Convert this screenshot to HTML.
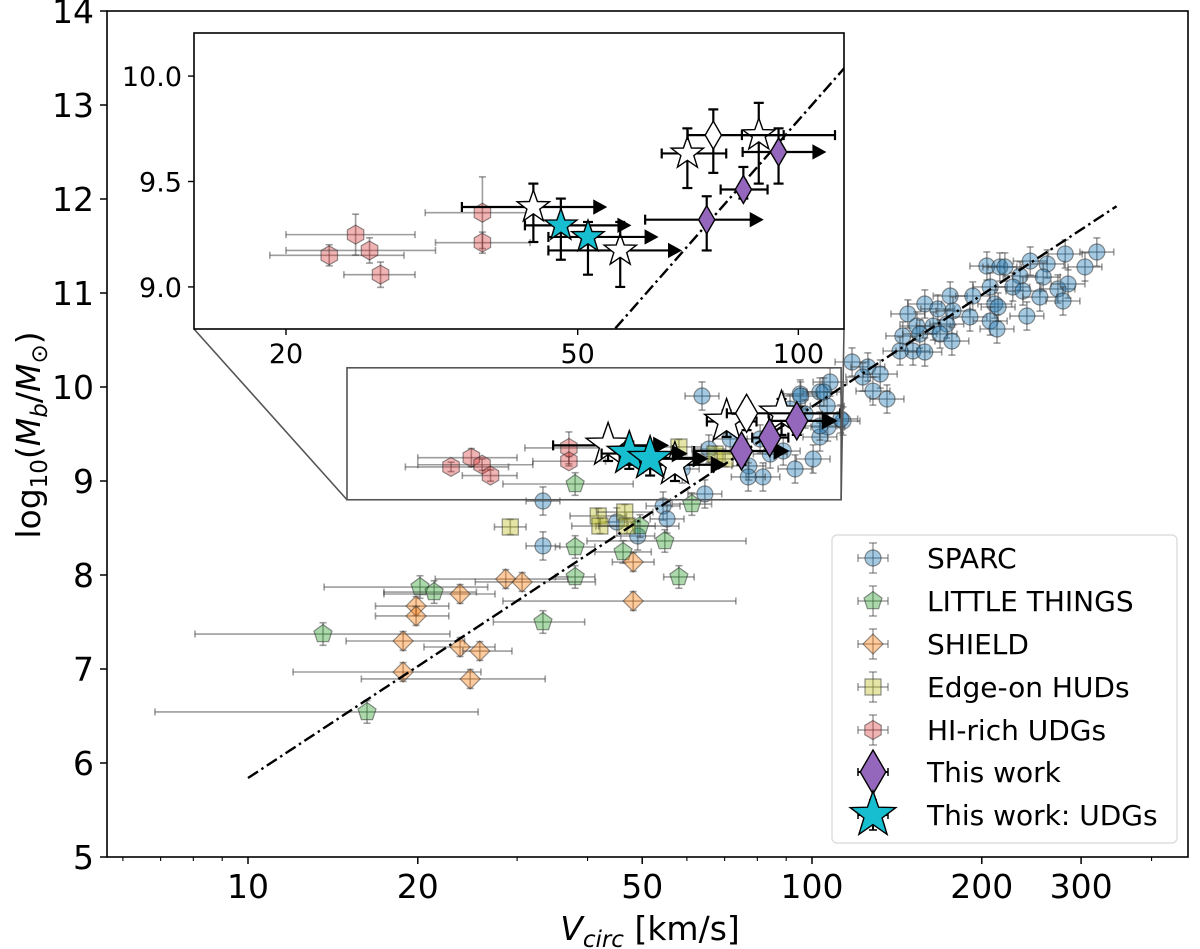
<!DOCTYPE html>
<html><head><meta charset="utf-8">
<style>
html,body{margin:0;padding:0;background:#fff;}
svg{display:block;font-family:"DejaVu Sans","Liberation Sans",sans-serif;}
</style></head>
<body>
<svg id="chart" width="1200" height="949" viewBox="0 0 1200 949" xmlns="http://www.w3.org/2000/svg">
<defs>
<clipPath id="clipMain"><rect x="107" y="11" width="1081" height="846"/></clipPath>
<clipPath id="clipInset"><rect x="194" y="33" width="650" height="296"/></clipPath>
</defs>
<rect x="0" y="0" width="1200" height="949" fill="#fff"/>
<g id="mainG" clip-path="url(#clipMain)"></g>
<g id="axesG"></g>
<g id="insetG"></g>
<g id="legendG"></g>
<text x="650" y="940" text-anchor="middle" font-size="33"><tspan font-style="italic">V</tspan><tspan font-style="italic" font-size="23" dy="7">circ</tspan><tspan dy="-7"> [km/s]</tspan></text>
<text transform="translate(40,435) rotate(-90)" text-anchor="middle" font-size="33">log<tspan font-size="23" dy="7">10</tspan><tspan dy="-7">(</tspan><tspan font-style="italic">M</tspan><tspan font-style="italic" font-size="23" dy="7">b</tspan><tspan dy="-7">/</tspan><tspan font-style="italic">M</tspan><tspan font-size="23" dy="7">⊙</tspan><tspan dy="-7">)</tspan></text>
</svg>
<script>
// ---------------- DATA (log10 Vcirc [km/s], log10 Mb) ----------------
const sparcLogV = [2.310,2.333,2.342,2.387,2.417,2.449,2.505,2.484,2.369,2.410,2.316,2.356,2.374,2.436,2.454,2.404,2.445,2.324,2.330,2.381,2.245,2.285,2.200,2.223,2.170,2.250,2.280,2.186,2.215,2.239,2.161,2.191,2.227,2.248,2.156,2.179,2.200,2.316,2.328,2.071,2.099,2.090,2.121,2.108,2.133,2.032,1.979,2.014,2.027,2.055,2.028,2.014,2.002,1.949,1.805,1.980,2.021,2.014,2.051,1.888,1.913,1.887,1.817,1.810,1.770,1.523,1.523,1.736,1.691,1.743,1.654,1.961,1.988,1.908,1.926,1.970,1.855];
const sparcLogM = [11.287,11.277,11.277,11.340,11.309,11.415,11.436,11.277,11.181,11.170,11.064,11.064,11.021,11.043,11.096,10.957,10.915,10.883,10.851,10.755,10.968,10.968,10.883,10.830,10.777,10.809,10.745,10.649,10.649,10.670,10.543,10.564,10.564,10.489,10.383,10.383,10.372,10.702,10.617,10.266,10.213,10.106,10.138,9.957,9.872,10.053,9.926,9.947,9.798,9.638,9.574,9.468,9.234,9.319,9.904,9.904,9.947,9.585,9.660,9.160,9.043,9.043,9.340,8.862,9.128,8.787,8.309,8.734,8.415,8.596,8.564,9.766,9.713,9.447,9.287,9.128,9.447];
const sparcErrV = 0.03, sparcErrM = 0.15;

const ltLogV = [1.580,1.787,1.695,1.580,1.665,1.739,1.580,1.764,1.305,1.330,1.523,1.133,1.211];
const ltLogM = [8.968,8.755,8.521,8.298,8.245,8.362,7.979,7.979,7.872,7.819,7.500,7.372,6.543];
const ltErrVlo = [0.128,0.035,0.078,0.035,0.05,0.138,0.035,0.027,0.17,0.089,0.088,0.227,0.376];
const ltErrVhi = [0.103,0.035,0.069,0.035,0.05,0.144,0.035,0.027,0.12,0.075,0.074,0.225,0.197];
const ltErrM = 0.12;

const shLogV = [1.683,1.457,1.486,1.376,1.298,1.298,1.683,1.275,1.376,1.411,1.275,1.394];
const shLogM = [8.138,7.957,7.926,7.798,7.670,7.564,7.723,7.298,7.234,7.191,6.968,6.894];
const shErrVlo = [0.037,0.125,0.083,0.135,0.072,0.072,0.231,0.101,0.064,0.03,0.195,0.193];
const shErrVhi = [0.037,0.11,0.13,0.062,0.058,0.058,0.182,0.109,0.062,0.057,0.138,0.133];
const shErrM = 0.1;

const hudLogV = [1.465,1.621,1.624,1.668,1.672,1.764,1.828,1.846];
const hudLogM = [8.511,8.628,8.521,8.670,8.521,9.362,9.287,9.234];
const hudErrV = [0.028,0.05,0.05,0.05,0.05,0.04,0.04,0.04];
const hudErrM = 0.08;

const udgLogV = [1.360,1.396,1.415,1.430,1.569,1.569];
const udgLogM = [9.150,9.248,9.173,9.058,9.352,9.210];
const udgErrVlo = [0.081,0.095,0.114,0.050,0.078,0.064];
const udgErrVhi = [0.102,0.081,0.090,0.047,0.061,0.065];
const udgErrM = [0.05,0.097,0.06,0.06,0.17,0.05];

const twLogV = [1.875,1.925,1.973];
const twLogM = [9.319,9.462,9.640];
const twErrVlo = [0.084,0.031,0.049];
const twErrVhi = [0.0625,0.033,0.05];
const twArrow = [1,0,1];
const twErrMlo = [0.146,0.043,0.15];
const twErrMhi = [0.111,0.107,0.112];

const cyLogV = [1.676,1.713];
const cyLogM = [9.292,9.237];
const cyErrVlo = [0.049,0.054];
const cyErrVhi = [0.081,0.081];
const cyArrow = [1,1];
const cyErrMlo = [0.163,0.179];
const cyErrMhi = [0.127,0.071];

const wsLogV = [1.6385,1.757,1.8486,1.946];
const wsLogM = [9.379,9.173,9.633,9.72];
const wsErrVlo = [0.0975,0.098,0.035,0.023];
const wsErrVhi = [0.0855,0.069,0.053,0.034];
const wsArrow = [1,1,0,0];
const wsErrMlo = [0.166,0.173,0.164,0.23];
const wsErrMhi = [0.111,0.135,0.119,0.153];

const wdLogV = [1.884];
const wdLogM = [9.72];
const wdErrVlo = [0.035];
const wdErrVhi = [0.166];
const wdErrMlo = [0.179];
const wdErrMhi = [0.122];

const fitSlope = 3.95, fitIntercept = 1.89, fitLogVmin = 1.0, fitLogVmax = 2.54;

const xTickVals = [10,20,50,100,200,300];
const xTickLabels = ["10","20","50","100","200","300"];
const yTickVals = [5,6,7,8,9,10,11,12,13,14];
const insetXTickVals = [20,50,100];
const insetXTickLabels = ["20","50","100"];
const insetYTickVals = [9.0,9.5,10.0];
const insetYTickLabels = ["9.0","9.5","10.0"];

// ---------------- SCALES ----------------
const NS = "http://www.w3.org/2000/svg";
const M = {x0:107,x1:1188,y0:11,y1:857, lv0:Math.log10(10)-(248-107)/564, lv1:1+(1188-248)/564, m0:5, m1:14};
const I = {x0:194,x1:844,y0:33,y1:329, lv0:Math.log10(20)-(286-194)/733, lv1:Math.log10(20)+(844-286)/733, m0:9.0-(329-287)/210.5, m1:10.0+(76-33)/210.5};
function sx(A,lv){return A.x0+(lv-A.lv0)/(A.lv1-A.lv0)*(A.x1-A.x0);}
function sy(A,m){return A.y1-(m-A.m0)/(A.m1-A.m0)*(A.y1-A.y0);}

function mk(tag,attrs,parent){const e=document.createElementNS(NS,tag);for(const k in attrs)e.setAttribute(k,attrs[k]);parent.appendChild(e);return e;}

function shapePath(kind,cx,cy,s){
  let pts=[];
  if(kind==="circle") return null;
  if(kind==="pent"){for(let i=0;i<5;i++){const a=-Math.PI/2+i*2*Math.PI/5;pts.push([cx+s*Math.cos(a),cy+s*Math.sin(a)]);}}
  if(kind==="hex"){for(let i=0;i<6;i++){const a=-Math.PI/2+i*Math.PI/3;pts.push([cx+s*Math.cos(a),cy+s*Math.sin(a)]);}}
  if(kind==="diam"){pts=[[cx,cy-s],[cx+s,cy],[cx,cy+s],[cx-s,cy]];}
  if(kind==="sq"){pts=[[cx-s*0.8,cy-s*0.8],[cx+s*0.8,cy-s*0.8],[cx+s*0.8,cy+s*0.8],[cx-s*0.8,cy+s*0.8]];}
  if(kind==="tdiam"){pts=[[cx,cy-s],[cx+s*0.58,cy],[cx,cy+s],[cx-s*0.58,cy]];}
  if(kind==="star"){for(let i=0;i<10;i++){const r=i%2?s*0.4:s;const a=-Math.PI/2+i*Math.PI/5;pts.push([cx+r*Math.cos(a),cy+r*Math.sin(a)]);}}
  return "M"+pts.map(p=>p[0].toFixed(1)+","+p[1].toFixed(1)).join("L")+"Z";
}
function drawMarker(g,kind,cx,cy,s,fill,stroke,sw,name){
  let e;
  if(kind==="circle") e=mk("circle",{cx:cx,cy:cy,r:s,fill:fill,stroke:stroke,"stroke-width":sw},g);
  else e=mk("path",{d:shapePath(kind,cx,cy,s),fill:fill,stroke:stroke,"stroke-width":sw},g);
  
  
  return e;
}
function errbar(g,A,lv,m,vlo,vhi,mlo,mhi,col,sw,cap,arrow,arrowSize){
  const x=sx(A,lv),y=sy(A,m);
  const xa=sx(A,lv-vlo),xb=sx(A,lv+vhi),ya=sy(A,m-mlo),yb=sy(A,m+mhi);
  const st={stroke:col,"stroke-width":sw,fill:"none"};
  mk("line",Object.assign({x1:xa,y1:y,x2:xb,y2:y},st),g);
  mk("line",Object.assign({x1:x,y1:ya,x2:x,y2:yb},st),g);
  mk("line",Object.assign({x1:xa,y1:y-cap,x2:xa,y2:y+cap},st),g);
  mk("line",Object.assign({x1:x-cap,y1:ya,x2:x+cap,y2:ya},st),g);
  mk("line",Object.assign({x1:x-cap,y1:yb,x2:x+cap,y2:yb},st),g);
  if(arrow){
    const s=arrowSize;
    const t=mk("path",{d:`M${xb-s*0.2},${y-s*0.55}L${xb+s*0.8},${y}L${xb-s*0.2},${y+s*0.55}Z`,fill:col},g);
    
    
  } else {
    mk("line",Object.assign({x1:xb,y1:y-cap,x2:xb,y2:y+cap},st),g);
  }
}

const COL = {blue:"rgba(31,119,180,0.4)",green:"rgba(44,160,44,0.4)",orange:"rgba(255,127,14,0.4)",yellow:"rgba(188,189,34,0.4)",red:"rgba(214,39,40,0.35)"};
const EBC = "rgba(60,60,60,0.5)";
const MEDGE = "rgba(40,40,40,0.5)";

function drawLit(g,A,lvs,ms,vlo,vhi,mer,kind,size,fill,name){
  for(let i=0;i<lvs.length;i++){
    const lo=Array.isArray(vlo)?vlo[i]:vlo, hi=Array.isArray(vhi)?vhi[i]:vhi, me=Array.isArray(mer)?mer[i]:mer;
    errbar(g,A,lvs[i],ms[i],lo,hi,me,me,EBC,1.6,3.5,false,0);
    drawMarker(g,kind,sx(A,lvs[i]),sy(A,ms[i]),size,fill,MEDGE,1.2,name);
  }
}
function drawThis(g,A,lvs,ms,vlo,vhi,arr,mlo,mhi,kind,size,fill,name,sw,cap,asz){
  for(let i=0;i<lvs.length;i++){
    errbar(g,A,lvs[i],ms[i],vlo[i],vhi[i],mlo[i],mhi[i],"#000",sw,cap,arr?arr[i]:0,asz);
  }
  for(let i=0;i<lvs.length;i++){
    drawMarker(g,kind,sx(A,lvs[i]),sy(A,ms[i]),size,fill,"#000",1.4,name);
  }
}
function drawFit(g,A,name){
  const l=mk("line",{x1:sx(A,fitLogVmin),y1:sy(A,fitSlope*fitLogVmin+fitIntercept),x2:sx(A,fitLogVmax),y2:sy(A,fitSlope*fitLogVmax+fitIntercept),stroke:"#000","stroke-width":2.4,"stroke-dasharray":"12,4,2.5,4",fill:"none"},g);
  
  
}

// ---------------- MAIN ----------------
const mainG=document.getElementById("mainG");
drawLit(mainG,M,sparcLogV,sparcLogM,sparcErrV,sparcErrV,sparcErrM,"circle",8,COL.blue,"sparc-point");
drawLit(mainG,M,ltLogV,ltLogM,ltErrVlo,ltErrVhi,ltErrM,"pent",9.5,COL.green,"little-things-point");
drawLit(mainG,M,shLogV,shLogM,shErrVlo,shErrVhi,shErrM,"diam",10,COL.orange,"shield-point");
drawLit(mainG,M,hudLogV,hudLogM,hudErrV,hudErrV,hudErrM,"sq",10,COL.yellow,"edge-on-hud-point");
drawLit(mainG,M,udgLogV,udgLogM,udgErrVlo,udgErrVhi,udgErrM,"hex",9.5,COL.red,"hi-rich-udg-point");
drawFit(mainG,M,"btfr-fit-line");
drawThis(mainG,M,wsLogV,wsLogM,wsErrVlo,wsErrVhi,wsArrow,wsErrMlo,wsErrMhi,"star",23,"#fff","this-work-alt-star",2.2,5,16);
drawThis(mainG,M,wdLogV,wdLogM,wdErrVlo,wdErrVhi,null,wdErrMlo,wdErrMhi,"tdiam",19,"#fff","this-work-alt-diamond",2.2,5,16);
drawThis(mainG,M,twLogV,twLogM,twErrVlo,twErrVhi,twArrow,twErrMlo,twErrMhi,"tdiam",19,"#9467bd","this-work-point",2.2,5,16);
drawThis(mainG,M,cyLogV,cyLogM,cyErrVlo,cyErrVhi,cyArrow,cyErrMlo,cyErrMhi,"star",23,"#17becf","this-work-udg-point",2.2,5,16);

// zoom rectangle + connectors
const axesG=document.getElementById("axesG");
const rx0=sx(M,I.lv0),rx1=sx(M,I.lv1)-6,ry0=sy(M,I.m1),ry1=sy(M,I.m0);
let zr=mk("rect",{x:rx0,y:ry0,width:rx1-rx0,height:ry1-ry0,fill:"none",stroke:"#555","stroke-width":1.6},axesG);


let c1=mk("line",{x1:I.x0,y1:I.y1,x2:rx0,y2:ry1,stroke:"#555","stroke-width":1.6},axesG);


let c2=mk("line",{x1:I.x1,y1:I.y1,x2:rx1,y2:ry1,stroke:"#555","stroke-width":1.6},axesG);



// main frame
let fr=mk("rect",{x:M.x0,y:M.y0,width:M.x1-M.x0,height:M.y1-M.y0,fill:"none",stroke:"#000","stroke-width":1.6},axesG);


for(let i=0;i<xTickVals.length;i++){
  const x=sx(M,Math.log10(xTickVals[i]));
  mk("line",{x1:x,y1:M.y1,x2:x,y2:M.y1+7,stroke:"#000","stroke-width":1.5},axesG);
  const t=mk("text",{x:x,y:M.y1+41,"text-anchor":"middle","font-size":33},axesG);
  t.textContent=xTickLabels[i];
  
  
}
for(let d=1;d<=100;d*=10){for(let k=2;k<=9;k++){const v=k*d;const lv=Math.log10(v);if(lv<M.lv0||lv>M.lv1)continue;if(xTickVals.indexOf(v)>=0)continue;const x=sx(M,lv);mk("line",{x1:x,y1:M.y1,x2:x,y2:M.y1+4,stroke:"#000","stroke-width":1.1},axesG);}}
for(const v of yTickVals){
  const y=sy(M,v);
  mk("line",{x1:M.x0-7,y1:y,x2:M.x0,y2:y,stroke:"#000","stroke-width":1.5},axesG);
  const t=mk("text",{x:M.x0-13,y:y+12,"text-anchor":"end","font-size":33},axesG);
  t.textContent=String(v);
  
  
}

// ---------------- INSET ----------------
const insetG=document.getElementById("insetG");
mk("rect",{x:I.x0,y:I.y0,width:I.x1-I.x0,height:I.y1-I.y0,fill:"#fff",stroke:"none"},insetG);
const inner=mk("g",{"clip-path":"url(#clipInset)"},insetG);
drawLit(inner,I,udgLogV,udgLogM,udgErrVlo,udgErrVhi,udgErrM,"hex",9.5,COL.red,"inset-hi-rich-udg-point");
drawFit(inner,I,"inset-btfr-fit-line");
drawThis(inner,I,wsLogV,wsLogM,wsErrVlo,wsErrVhi,wsArrow,wsErrMlo,wsErrMhi,"star",17,"#fff","inset-this-work-alt-star",2.2,5,14);
drawThis(inner,I,wdLogV,wdLogM,wdErrVlo,wdErrVhi,null,wdErrMlo,wdErrMhi,"tdiam",14,"#fff","inset-this-work-alt-diamond",2.2,5,14);
drawThis(inner,I,twLogV,twLogM,twErrVlo,twErrVhi,twArrow,twErrMlo,twErrMhi,"tdiam",14,"#9467bd","inset-this-work-point",2.2,5,14);
drawThis(inner,I,cyLogV,cyLogM,cyErrVlo,cyErrVhi,cyArrow,cyErrMlo,cyErrMhi,"star",17,"#17becf","inset-this-work-udg-point",2.2,5,14);
mk("rect",{x:I.x0,y:I.y0,width:I.x1-I.x0,height:I.y1-I.y0,fill:"none",stroke:"#000","stroke-width":1.6},insetG);
for(let i=0;i<insetXTickVals.length;i++){
  const x=sx(I,Math.log10(insetXTickVals[i]));
  mk("line",{x1:x,y1:I.y1,x2:x,y2:I.y1+6,stroke:"#000","stroke-width":1.4},insetG);
  const t=mk("text",{x:x,y:I.y1+34,"text-anchor":"middle","font-size":27},insetG);
  t.textContent=insetXTickLabels[i];
  
  
}
for(let i=0;i<insetYTickVals.length;i++){
  const y=sy(I,insetYTickVals[i]);
  mk("line",{x1:I.x0-6,y1:y,x2:I.x0,y2:y,stroke:"#000","stroke-width":1.4},insetG);
  const t=mk("text",{x:I.x0-12,y:y+10,"text-anchor":"end","font-size":27},insetG);
  t.textContent=insetYTickLabels[i];
  
  
}

// ---------------- LEGEND ----------------
const lg=document.getElementById("legendG");
mk("rect",{x:832,y:535,width:345,height:308,rx:5,fill:"rgba(255,255,255,0.85)",stroke:"#ddd","stroke-width":1.4},lg);
const legNames=["SPARC","LITTLE THINGS","SHIELD","Edge-on HUDs","HI-rich UDGs","This work","This work: UDGs"];
const legKinds=["circle","pent","diam","sq","hex","tdiam","star"];
const legFill=[COL.blue,COL.green,COL.orange,COL.yellow,COL.red,"#9467bd","#17becf"];
const legY=[558,601,644,687,730,772,815];
for(let i=0;i<legNames.length;i++){
  const y=legY[i], x=873;
  const big=i>=5;
  const col=big?"#000":EBC;
  mk("line",{x1:x-15,y1:y,x2:x+15,y2:y,stroke:col,"stroke-width":big?2:1.5},lg);
  mk("line",{x1:x,y1:y-15,x2:x,y2:y+15,stroke:col,"stroke-width":big?2:1.5},lg);
  mk("line",{x1:x-15,y1:y-4,x2:x-15,y2:y+4,stroke:col,"stroke-width":1.5},lg);
  mk("line",{x1:x+15,y1:y-4,x2:x+15,y2:y+4,stroke:col,"stroke-width":1.5},lg);
  mk("line",{x1:x-4,y1:y-15,x2:x+4,y2:y-15,stroke:col,"stroke-width":1.5},lg);
  mk("line",{x1:x-4,y1:y+15,x2:x+4,y2:y+15,stroke:col,"stroke-width":1.5},lg);
  const sz=i===5?22:(i===6?24:(i===2?10:(i===3?10:(i===0?8:9.5))));
  drawMarker(lg,legKinds[i],x,y,sz,legFill[i],big?"#000":MEDGE,big?1.4:1.2,"legend-marker");
  const t=mk("text",{x:927,y:y+10,"font-size":28},lg);
  t.textContent=legNames[i];
  
  
}
</script>
</body></html>
